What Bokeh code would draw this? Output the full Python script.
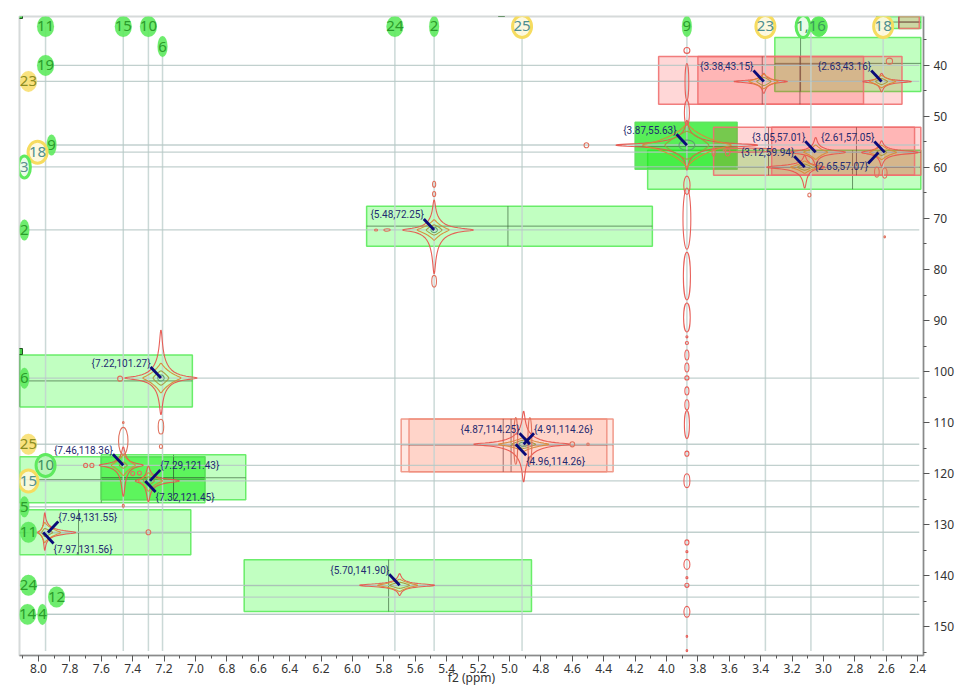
import math
from bokeh.plotting import figure
from bokeh.models import Range1d, FixedTicker, NumeralTickFormatter, PolyAnnotation
from bokeh.core.properties import value
from bokeh.embed import file_html
from bokeh.resources import INLINE

# ---------- axes ----------
x_major = [8.0,7.8,7.6,7.4,7.2,7.0,6.8,6.6,6.4,6.2,6.0,5.8,5.6,5.4,5.2,5.0,4.8,4.6,4.4,4.2,4.0,3.8,3.6,3.4,3.2,3.0,2.8,2.6,2.4]
x_minor = [8.1,7.9,7.7,7.5,7.3,7.1,6.9,6.7,6.5,6.3,6.1,5.9,5.7,5.5,5.3,5.1,4.9,4.7,4.5,4.3,4.1,3.9,3.7,3.5,3.3,3.1,2.9,2.7,2.5]
y_major = [40,50,60,70,80,90,100,110,120,130,140,150]
y_minor = [35,45,55,65,75,85,95,105,115,125,135,145,155]
x_axis_title = "f2 (ppm)"

# ---------- assignment labels: text, x ppm, y ppm, kind ----------
top_labels = [("11",7.955,32.37,"g"),("15",7.46,32.37,"g"),("10",7.30,32.37,"g"),("6",7.21,36.3,"g"),
              ("24",5.73,32.37,"g"),("2",5.48,32.37,"g"),("25",4.92,32.37,"yr"),("9",3.87,32.37,"g"),
              ("23",3.37,32.37,"yr"),("18",2.62,32.37,"yr")]
top_pair_text = "1,16"
top_pair_x = [3.13,3.03]
top_pair_y = 32.37
v_lines_x = [7.955,7.46,7.30,7.21,5.73,5.48,4.92,3.87,3.37,3.08,2.62]
v_lines_top = [32.37,32.37,32.37,36.3,32.37,32.37,32.37,32.37,32.37,32.37,32.37]

left_labels = [("19",7.955,40.0,"g"),("23",8.064,43.13,"y"),("9",7.917,55.6,"g"),("18",8.006,57.0,"yr"),
               ("3",8.09,59.9,"gr"),("2",8.09,72.25,"g"),("6",8.09,101.3,"g"),("25",8.064,114.25,"y"),
               ("10",7.955,118.4,"gr2"),("15",8.064,121.45,"yr"),("5",8.09,126.5,"g"),("11",8.064,131.5,"g"),
               ("24",8.064,141.9,"g"),("12",7.885,144.2,"g"),("14",8.07,147.6,"g"),("4",7.975,147.6,"g")]

# ---------- integration boxes: x_hi, x_lo, y_top, y_bottom, cross x, cross y ----------
green_boxes = [(3.31,2.38,34.52,45.09,3.146,39.6),(2.66,2.38,30.4,32.76,2.66,31.5),
               (4.12,2.38,56.63,64.27,2.815,59.96),(5.91,4.09,67.59,75.42,5.01,71.5),
               (6.69,4.86,136.87,147.05,5.77,141.96),(8.12,7.02,96.75,106.93,8.12,101.84),
               (7.60,6.68,116.32,125.13,7.14,120.82),(8.12,6.94,116.71,125.72,7.60,121.2),
               (8.12,7.03,127.1,135.9,7.745,131.6)]
bright_boxes = [(4.20,3.55,51.15,60.35,3.87,55.85),(7.60,6.94,116.71,125.13,7.14,120.82)]
red_boxes = [(2.52,2.39,30.4,32.76,2.52,31.5),(4.05,2.50,38.24,47.63,3.39,43.13),(3.80,2.745,38.24,47.63,3.15,39.9),
             (3.70,2.38,52.13,61.53,2.79,57.03),(3.33,2.42,52.13,61.53,3.35,59.96)]
salmon_boxes = [(5.69,4.34,109.28,119.65,5.04,114.36),(5.64,4.38,109.28,119.65,4.99,114.36)]

# ---------- contour peaks: centre, then levels of (left, right, up, down) half-widths ----------
peaks = [
 (3.87,55.63,[(.453,.452,4.9,4.9),(.283,.283,4.3,4.3),(.14,.14,2.74,2.74),(.05,.05,1.0,1.0)]),
 (3.38,43.15,[(.19,.15,1.6,2.3),(.095,.09,1.4,1.4),(.045,.045,.8,.8)]),
 (2.63,43.16,[(.12,.19,1.6,2.0),(.076,.09,1.2,1.2),(.038,.038,.6,.6)]),
 (5.48,72.25,[(.20,.25,5.9,8.6),(.108,.095,2.0,2.0),(.05,.05,1.0,1.0),(.02,.02,.5,.5)]),
 (7.22,101.27,[(.23,.23,9.4,7.2),(.115,.127,2.9,2.9),(.05,.05,1.4,1.4),(.02,.02,.6,.6)]),
 (7.46,118.36,[(.153,.127,3.6,6.1),(.076,.076,2.0,2.0),(.025,.025,.6,.6)]),
 (7.30,121.44,[(.083,.197,2.9,4.1),(.064,.09,1.6,2.0),(.032,.038,.8,.8)]),
 (7.96,131.55,[(.045,.197,3.9,3.5),(.038,.10,2.0,2.0),(.019,.05,.8,.8)]),
 (5.70,141.90,[(.255,.223,2.3,2.0),(.14,.115,1.2,1.2),(.064,.064,.6,.6)]),
 (4.91,114.26,[(.318,.293,6.5,7.4),(.16,.16,1.4,1.4),(.076,.076,.8,.8),(.03,.03,.4,.4)]),
 (3.05,57.01,[(.16,.19,2.9,2.5),(.076,.076,1.4,1.4)]),
 (3.12,59.94,[(.242,.127,2.3,4.1),(.09,.09,1.2,1.2),(.045,.045,.6,.6)]),
 (2.63,57.05,[(.127,.235,2.3,2.7),(.076,.095,1.4,1.4),(.032,.032,.6,.6)]),
]

# ---------- isolated contour blobs: x, y, width, height ----------
t1_noise_x = 3.87
t1_noise_y = [37.06,43.23,49.3,63.5,70.04,81.29,89.41,93.2,94.4,96.75,99.2,101.25,103.8,106.5,110.4,116.1,121.4,133.5,135.3,137.8,140.4,141.9,147.1,151.9,154.7]
t1_noise_h = [1.17,7.24,4.9,3.6,12.0,9.39,5.68,.4,.6,1.96,1.76,.8,1.57,1.96,5.5,1.0,2.74,1.0,.4,1.96,.4,.8,2.15,.4,.4]
t1_noise_w = [.038,.024,.032,.04,.05,.045,.042,.013,.02,.026,.026,.026,.026,.026,.032,.026,.038,.026,.013,.038,.013,.026,.038,.01,.01]
blob_x = [5.48,5.48,5.48,5.85,5.78,7.48,7.22,7.22,7.46,7.46,7.46,7.70,7.66,7.40,7.357,7.30,4.51,4.60,4.50,2.58,2.66,2.61,2.61,3.09,3.70,3.61,3.48,4.96,4.87]
blob_y = [63.3,65.2,82.3,72.25,72.25,101.4,110.8,114.7,113.6,110.0,126.3,118.4,118.4,120.0,119.9,131.5,55.65,114.26,114.26,39.16,60.9,61.1,73.6,65.4,57.0,57.0,56.6,113.6,113.6]
blob_w = [.02,.02,.03,.02,.04,.032,.035,.02,.06,.01,.013,.026,.026,.025,.025,.03,.03,.03,.015,.04,.03,.03,.01,.02,.02,.03,.32,.025,.025]
blob_h = [1.2,1.0,2.3,.4,.5,1.0,2.9,.8,5.3,.4,.6,.8,.8,.8,.8,1.0,1.0,1.0,.5,1.2,2.0,2.0,.4,.8,1.5,1.5,.8,9.2,9.2]

# ---------- peak picks: label, direction to the label ----------
picks_nw = ["{3.38,43.15}","{2.63,43.16}","{3.87,55.63}","{3.05,57.01}","{3.12,59.94}","{2.61,57.05}",
            "{5.48,72.25}","{7.22,101.27}","{7.46,118.36}","{4.87,114.25}","{5.70,141.90}"]
picks_ne = ["{7.29,121.43}","{7.94,131.55}","{4.91,114.26}"]
picks_se = ["{7.32,121.45}","{7.97,131.56}","{4.96,114.26}"]
picks_sw = ["{2.65,57.07}"]

p = figure(width=964, height=688, output_backend="svg", toolbar_location=None,
           x_range=Range1d(8.121,2.363), y_range=Range1d(155.66,30.41),
           y_axis_location="right", min_border_left=19, min_border_right=41,
           min_border_top=16, min_border_bottom=32, background_fill_color="white",
           x_axis_label=x_axis_title)
p.grid.visible = False
p.outline_line_color = "#d6dada"
p.outline_line_width = 2

for ax,maj,mnr in ((p.xaxis[0],x_major,x_minor),(p.yaxis[0],y_major,y_minor)):
    ax.ticker = FixedTicker(ticks=maj, minor_ticks=mnr)
    ax.major_tick_in = 0; ax.major_tick_out = 6
    ax.minor_tick_in = 0; ax.minor_tick_out = 3
    ax.axis_line_color = "#8a8a8a"; ax.axis_line_width = 1.5
    ax.major_tick_line_color = "#555555"; ax.minor_tick_line_color = "#555555"
    ax.major_label_text_font = "Noto Sans"; ax.major_label_text_font_size = "12px"
    ax.major_label_text_color = "#333333"
    ax.major_label_standoff = 2
p.yaxis[0].major_label_standoff = 4
p.xaxis[0].formatter = NumeralTickFormatter(format="0.0")
p.xaxis[0].axis_label_text_font = "Noto Sans"
p.xaxis[0].axis_label_text_font_size = "12px"
p.xaxis[0].axis_label_text_font_style = "normal"
p.xaxis[0].axis_label_text_color = "#333333"
p.xaxis[0].axis_label_standoff = -7

def boxes(rows, color, line, alpha, cross):
    p.quad(left=[r[0] for r in rows], right=[r[1] for r in rows], top=[r[2] for r in rows], bottom=[r[3] for r in rows],
           fill_color=color, fill_alpha=alpha, line_color=line, line_width=1.5, line_alpha=.9)
    p.segment(x0=[r[0] for r in rows], x1=[r[1] for r in rows], y0=[r[5] for r in rows], y1=[r[5] for r in rows],
              line_color=cross, line_alpha=.7, line_width=1)
    p.segment(x0=[r[4] for r in rows], x1=[r[4] for r in rows], y0=[r[2] for r in rows], y1=[r[3] for r in rows],
              line_color=cross, line_alpha=.7, line_width=1)

boxes(green_boxes, "#33ff33", "#5ceb5c", .30, "#3f6a3f")
boxes(bright_boxes[:1], "#18e818", "#5ce05c", .72, "#3f6a3f")
boxes(bright_boxes[1:], "#18e818", "#5ce05c", .45, "#3f6a3f")
boxes(red_boxes, "#ff2020", "#f07070", .18, "#7a4040")
boxes(salmon_boxes, "#ff5a30", "#f09080", .14, "#7a4040")

# assignment lines
ymax = 154.8
p.segment(x0=v_lines_x, x1=v_lines_x, y0=v_lines_top, y1=[ymax]*len(v_lines_x), line_color="#c2d2d0", line_width=1.5, line_alpha=.85)
p.segment(x0=[l[1] for l in left_labels], x1=[2.39]*len(left_labels), y0=[l[2] for l in left_labels], y1=[l[2] for l in left_labels],
          line_color="#b6c8c6", line_width=1.3, line_alpha=.85)

# contours
LEVEL_COLORS = ["#e8554e","#d98a3a","#a8983c","#5d9a6e"]
LEVEL_POWER = [5,3,2,1]
EPS_X, EPS_Y = .024, .75
def star(cx, cy, lv, k, n=24):
    l,r,u,d = lv
    xs,ys = [],[]
    ex = min(EPS_X, min(l,r)*.3); ey = min(EPS_Y, min(u,d)*.3)
    for q,(a,b) in enumerate(((r,u),(r,d),(l,d),(l,u))):
        sx = -1 if q<2 else 1   # ppm axis runs right to left
        sy = -1 if q in (0,3) else 1
        for i in range(n+1):
            t = i/n*math.pi/2
            if q in (1,3): t = math.pi/2 - t
            s,c = math.sin(t),math.cos(t)
            xs.append(cx + sx*((a-ex)*s**k + ex*s))
            ys.append(cy + sy*((b-ey)*c**k + ey*c))
    return xs+xs[:1], ys+ys[:1]
cx_all,cy_all,cc = [],[],[]
for cx,cy,levels in peaks:
    for i,lv in enumerate(levels):
        xs,ys = star(cx,cy,lv,LEVEL_POWER[i])
        cx_all.append(xs); cy_all.append(ys); cc.append(LEVEL_COLORS[i])
p.multi_line(cx_all, cy_all, line_color=cc, line_width=1.1, line_alpha=.95)
p.ellipse(x=[t1_noise_x]*len(t1_noise_y), y=t1_noise_y, width=t1_noise_w, height=t1_noise_h,
          fill_alpha=0, line_color="#e8605a", line_width=1.1)
p.ellipse(x=blob_x, y=blob_y, width=blob_w, height=blob_h, fill_alpha=0, line_color="#e0705c", line_width=1.1)

# peak picks
def parse(s):
    a,b = s.strip("{}").split(",")
    return float(a), float(b)
DX, DY = .066, 2.15
for names,sx,sy,align,yoff in ((picks_nw,1,-1,"right",-4),(picks_ne,-1,-1,"left",-4),(picks_se,-1,1,"left",6),(picks_sw,1,1,"right",3)):
    tx = [parse(s)[0] for s in names]; ty = [parse(s)[1] for s in names]
    ex = [v+sx*DX for v in tx]; ey = [v+sy*DY for v in ty]
    p.segment(x0=tx, y0=ty, x1=ex, y1=ey, line_color="#0a0a78", line_width=2.8)
    p.text(x=ex, y=ey, text=names, text_align=align, text_baseline="middle", y_offset=yoff,
           text_font=value("Roboto"), text_font_size="10px", text_color="#1f2a70")

# assignment labels
KIND = {"g":("#5eea5e",.9,"#5eea5e",0,"#2b9c2b"),
        "gr2":("#b8f5b8",.9,"#5eea5e",3,"#3f8f5f"),
        "y":("#f8df70",.9,"#f8df70",0,"#8c8c22"),
        "yr":("#fdf8dc",.9,"#f6dc60",3,"#4f8f8f"),
        "gr":("#e8fbe8",.9,"#5eea5e",3,"#5f8f8f")}
def draw_labels(rows):
    for kind,(fc,fa,lc,lw,tc) in KIND.items():
        sel = [r for r in rows if r[3]==kind]
        if not sel: continue
        xs=[r[1] for r in sel]; ys=[r[2] for r in sel]
        w=[(10 if len(r[0])==1 else 17)+(2 if lw else 0) for r in sel]
        h=[21 if lw==0 else 22 for r in sel]
        p.ellipse(x=xs,y=ys,width=w,height=h,width_units="screen",height_units="screen",
                  fill_color=fc,fill_alpha=fa,line_color=lc,line_width=max(lw,.1))
        p.text(x=xs,y=ys,text=[r[0] for r in sel],text_align="center",text_baseline="middle",
               text_font=value("Noto Sans"),text_font_size="15px",text_color=tc)
draw_labels(left_labels); draw_labels(top_labels)
p.ellipse(x=[top_pair_x[0]],y=[top_pair_y],width=14,height=22,width_units="screen",height_units="screen",
          fill_color="#e8fbe8",line_color="#5eea5e",line_width=3)
p.ellipse(x=[top_pair_x[1]],y=[top_pair_y],width=17,height=20,width_units="screen",height_units="screen",
          fill_color="#5eea5e",line_color="#5eea5e")
p.text(x=[(top_pair_x[0]+top_pair_x[1])/2],y=[top_pair_y],text=[top_pair_text],text_align="center",text_baseline="middle",
       text_font=value("Noto Sans"),text_font_size="15px",text_color="#3a9a5a")

# selection handles of the screenshot (screen units measured from the frame's lower left corner)
for hx,hy in ((-3,643),(479,645),(-3,307)):
    p.add_layout(PolyAnnotation(xs=[hx,hx+6,hx+6,hx], ys=[hy,hy,hy-6,hy-6], xs_units="screen", ys_units="screen",
                                fill_color="#44cc44", fill_alpha=1, line_color="#225522", line_width=1, line_alpha=1))

open("out.html","w").write(file_html(p, INLINE))
